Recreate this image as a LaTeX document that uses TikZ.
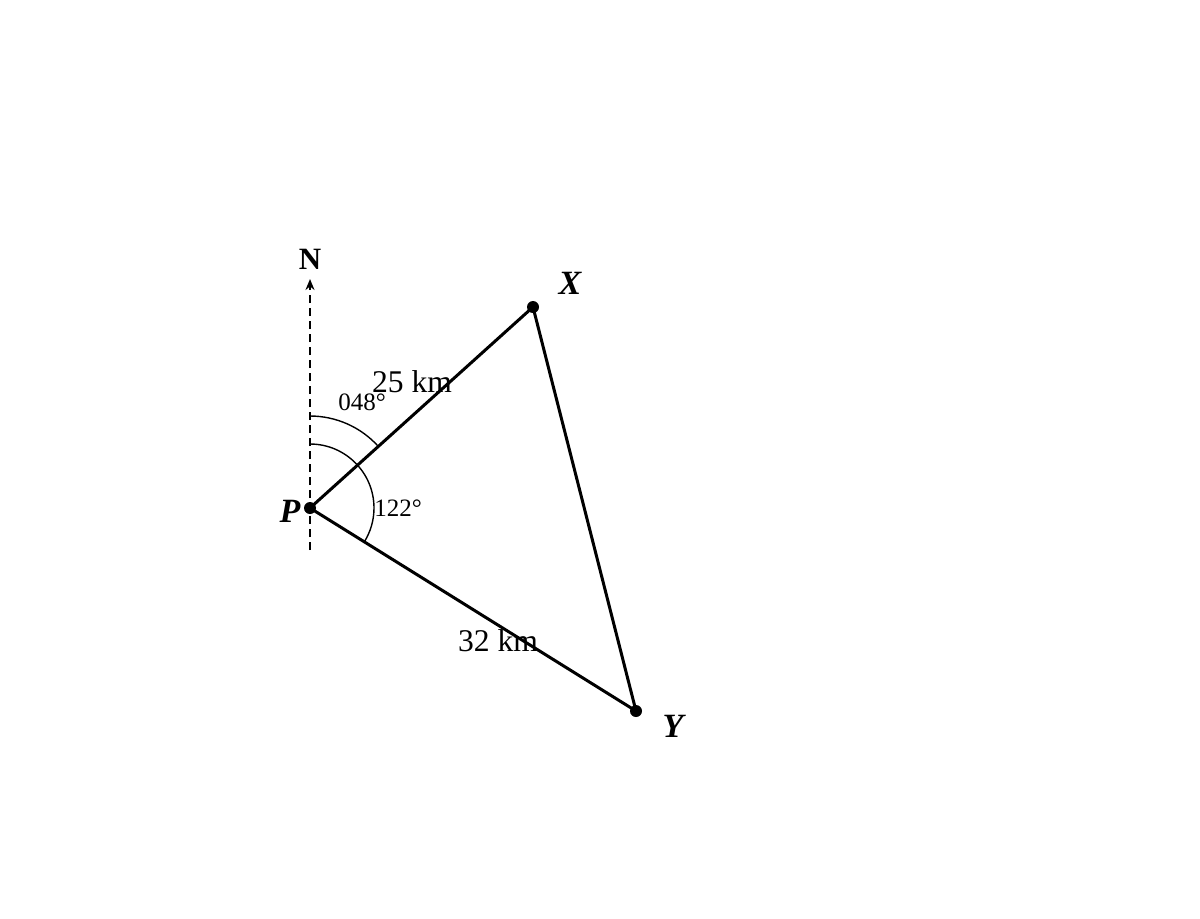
\documentclass[tikz,border=0pt]{standalone}
\usepackage{fontspec}
\setmainfont{Liberation Serif}
\usetikzlibrary{arrows.meta}
\begin{document}
\begin{tikzpicture}[x=0.5pt,y=-0.5pt,
  side/.style={line width=1.5pt},
  anglearc/.style={line width=0.7pt},
  pt/.style={circle,fill=black,inner sep=0pt,minimum size=6pt},
  ptlabel/.style={font=\fontsize{17}{20}\selectfont\bfseries\itshape},
  lenlabel/.style={font=\fontsize{15.8}{19}\selectfont},
  anglabel/.style={font=\fontsize{12.5}{15}\selectfont}]
\useasboundingbox (0,0) rectangle (1200,918);
\coordinate (S) at (310,550);
\node[inner sep=0pt] (Ntip) at (310,279) {};
\node[font=\fontsize{15.5}{18}\selectfont\bfseries] (N) at (310,259) {N};
\draw[line width=1pt,dash pattern=on 4pt off 2.5pt,-{Stealth[length=5.5pt,width=4.5pt]}] (S) -- (Ntip.center);
\node[pt] (P) at (310,508) {};
\node[pt] (X) at (533,307) {};
\node[pt] (Y) at (636,711) {};
\draw[side,line join=round] (P.center) -- (X.center) -- (Y.center) -- cycle;
\draw[anglearc] (310,416) arc[start angle=-90,end angle=-42,radius=92];
\draw[anglearc] (310,444) arc[start angle=-90,end angle=32,radius=64];
\node[ptlabel] (Pl) at (290,511) {P};
\node[ptlabel] (Xl) at (570,283) {X};
\node[ptlabel] (Yl) at (673,726) {Y};
\node[lenlabel] (l25) at (412,382) {25 km};
\node[lenlabel] (l32) at (498,641) {32 km};
\node[anglabel] (a48) at (362,402) {048°};
\node[anglabel] (a122) at (398,508) {122°};
\end{tikzpicture}
\end{document}
